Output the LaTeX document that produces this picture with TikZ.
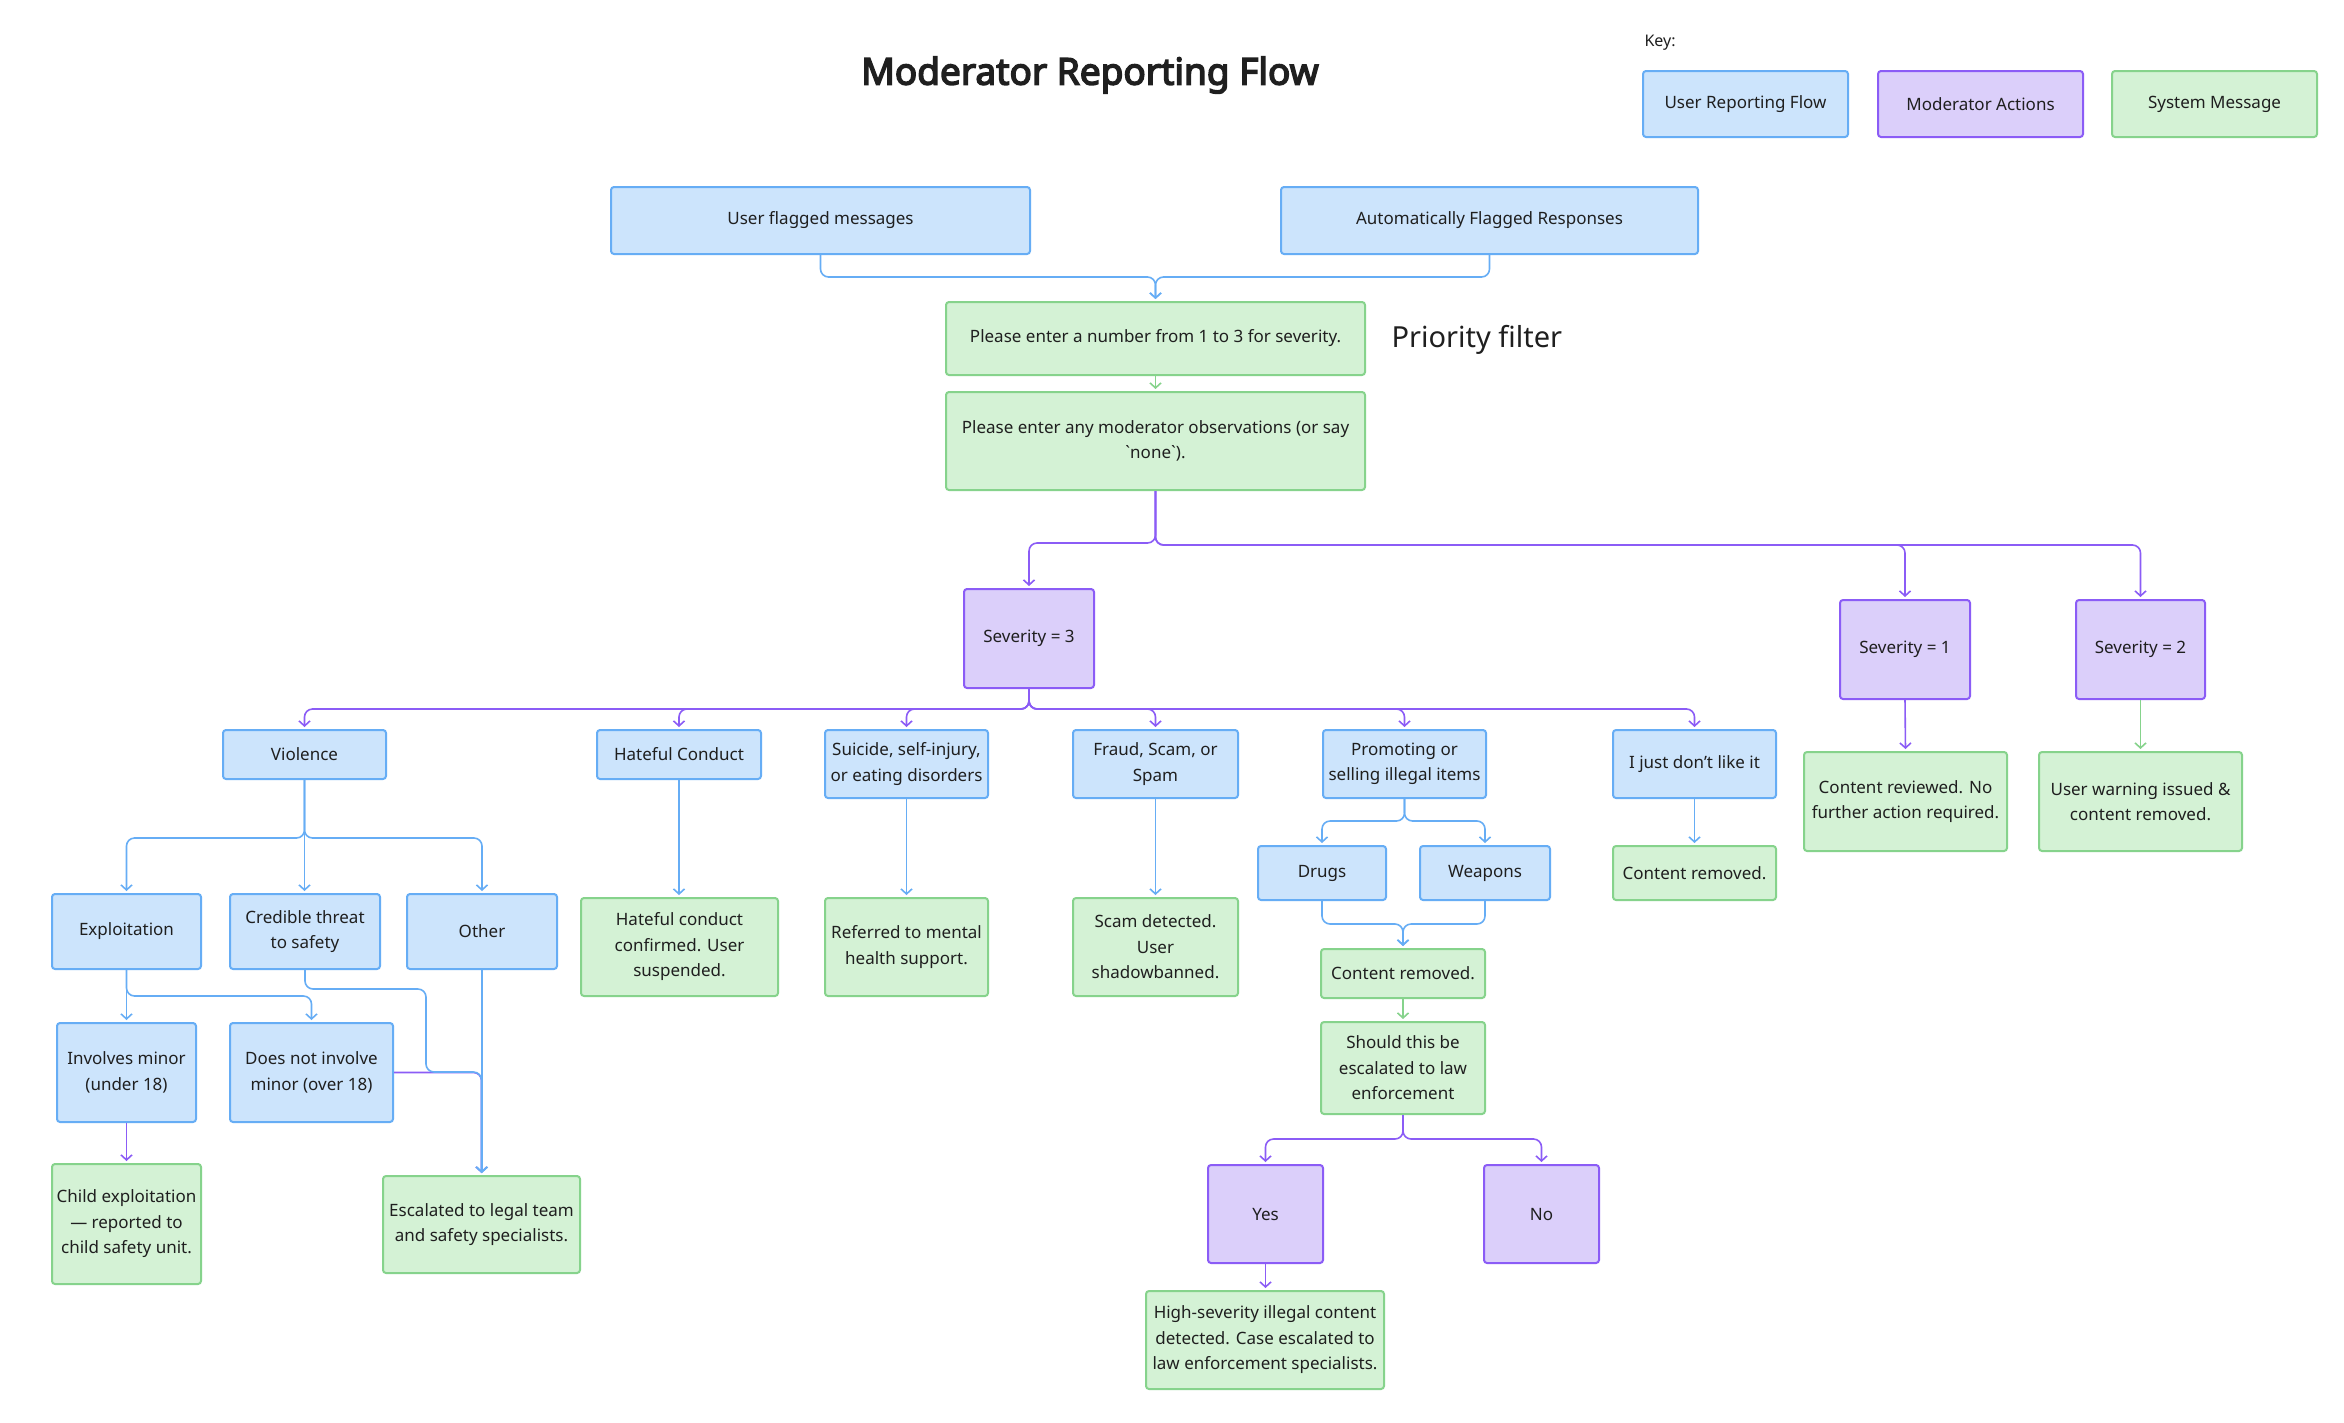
\documentclass[tikz,border=0pt]{standalone}
\usepackage{fontspec}
\setmainfont{Noto Sans}
\newfontfamily\titlefont[FakeBold=4]{Noto Sans}
\usetikzlibrary{arrows.meta,calc}
\definecolor{bfill}{HTML}{CCE4FC}
\definecolor{bline}{HTML}{66ADF5}
\definecolor{pfill}{HTML}{DBCFFA}
\definecolor{pline}{HTML}{8B5CF6}
\definecolor{gfill}{HTML}{D4F2D5}
\definecolor{gline}{HTML}{86D38C}
\definecolor{txt}{HTML}{1F1F1F}
\begin{document}
\begin{tikzpicture}[x=1pt,y=-1pt,
 box/.style={draw, line width=2pt, rounded corners=3pt, align=center, inner sep=0pt, text=txt, font=\fontsize{17}{25.5}\selectfont},
 ub/.style={box, fill=bfill, draw=bline},
 mb/.style={box, fill=pfill, draw=pline},
 sb/.style={box, fill=gfill, draw=gline},
 wh/.style 2 args={minimum width=#1pt, minimum height=#2pt},
 con/.style={line width=1.6pt, rounded corners=8pt, -{Straight Barb[length=5pt,width=11pt]}, shorten >=2pt},
 bc/.style={con, draw=bline},
 pc/.style={con, draw=pline},
 gc/.style={con, draw=gline},
]
\fill[white] (0,0) rectangle (2344,1422);
\useasboundingbox (0,0) rectangle (2344,1422);

% title, key, labels
\node[font=\titlefont\fontsize{37}{42}\selectfont, text=txt] (title) at (1090,75) {Moderator Reporting Flow};
\node[anchor=west, font=\fontsize{16}{19}\selectfont, text=txt] (key) at (1641,43) {Key:};
\node[ub, wh={205}{66}] (ku) at (1745.5,104) {User Reporting Flow};
\node[mb, wh={205}{66}] (km) at (1980.5,104) {Moderator Actions};
\node[sb, wh={205}{66}] (ks) at (2214.5,104) {System Message};
\node[anchor=west, font=\fontsize{29}{34}\selectfont, text=txt] (pf) at (1388,340) {Priority filter};

% top
\node[ub, wh={419}{67}] (ufm) at (820.5,220.5) {User flagged messages};
\node[ub, wh={417}{67}] (afr) at (1489.5,220.5) {Automatically Flagged Responses};
\node[sb, wh={419}{73}] (pri) at (1155.5,338.5) {Please enter a number from 1 to 3 for severity.};
\node[sb, wh={419}{98}] (obs) at (1155.5,441) {Please enter any moderator observations (or say\\ \textasciigrave none\textasciigrave).};

% severity
\node[mb, wh={130}{99}] (sev3) at (1029,638.5) {Severity = 3};
\node[mb, wh={130}{99}] (sev1) at (1905,649.5) {Severity = 1};
\node[mb, wh={129}{99}] (sev2) at (2140.5,649.5) {Severity = 2};
\node[sb, wh={203}{99}] (crev) at (1905.5,801.5) {Content reviewed. No\\further action required.};
\node[sb, wh={203}{99}] (uwarn) at (2140.5,801.5) {User warning issued \&\\content removed.};

% categories
\node[ub, wh={163}{49}] (viol) at (304.5,754.5) {Violence};
\node[ub, wh={164}{49}] (hate) at (679,754.5) {Hateful Conduct};
\node[ub, wh={163}{68}] (sui) at (906.5,764) {Suicide, self-injury,\\or eating disorders};
\node[ub, wh={165}{68}] (fraud) at (1155.5,764) {Fraud, Scam, or\\Spam};
\node[ub, wh={163}{68}] (promo) at (1404.5,764) {Promoting or\\selling illegal items};
\node[ub, wh={163}{68}] (ijust) at (1694.5,764) {I just don’t like it};

% second row
\node[ub, wh={149}{75}] (expl) at (126.5,931.5) {Exploitation};
\node[ub, wh={150}{75}] (cred) at (305,931.5) {Credible threat\\to safety};
\node[ub, wh={150}{75}] (other) at (482,931.5) {Other};
\node[sb, wh={197}{98}] (hcc) at (679.5,947) {Hateful conduct\\confirmed. User\\suspended.};
\node[sb, wh={163}{98}] (ref) at (906.5,947) {Referred to mental\\health support.};
\node[sb, wh={165}{98}] (scam) at (1155.5,947) {Scam detected.\\User\\shadowbanned.};
\node[ub, wh={128}{54}] (drugs) at (1322,873) {Drugs};
\node[ub, wh={130}{54}] (weap) at (1485,873) {Weapons};
\node[sb, wh={163}{54}] (cremr) at (1694.5,873) {Content removed.};
\node[sb, wh={164}{49}] (cremm) at (1403,973.5) {Content removed.};
\node[sb, wh={164}{92}] (should) at (1403,1068) {Should this be\\escalated to law\\enforcement};
\node[mb, wh={115}{98}] (yes) at (1265.5,1214) {Yes};
\node[mb, wh={115}{98}] (no) at (1541.5,1214) {No};
\node[sb, wh={238}{98}] (high) at (1265,1340) {High-severity illegal content\\detected. Case escalated to\\law enforcement specialists.};

% third row left
\node[ub, wh={139}{99}] (inv) at (126.5,1072.5) {Involves minor\\(under 18)};
\node[ub, wh={163}{99}] (dni) at (311.5,1072.5) {Does not involve\\minor (over 18)};
\node[sb, wh={149}{120}] (child) at (126.5,1224) {Child exploitation\\— reported to\\child safety unit.};
\node[sb, wh={197}{97}] (esc) at (481.5,1224.5) {Escalated to legal team\\and safety specialists.};

% connectors
\draw[bc] (ufm.south) |- (pri.north |- 0,277) -- (pri.north);
\draw[bc] (afr.south) |- (pri.north |- 0,277) -- (pri.north);
\draw[gc] (pri.south) -- (obs.north);
\draw[pc] (obs.south) |- (sev3.north |- 0,543) -- (sev3.north);
\draw[pc] (obs.south) |- (sev1.north |- 0,545) -- (sev1.north);
\draw[pc] (obs.south) |- (sev2.north |- 0,545) -- (sev2.north);
\draw[pc] (sev1.south) -- (crev.north);
\draw[gc] (sev2.south) -- (uwarn.north);

\foreach \n in {viol,hate,sui,fraud,promo,ijust}{
  \draw[pc] (sev3.south) |- (\n.north |- 0,709) -- (\n.north);
}

\draw[bc] (viol.south) |- (expl.north |- 0,838) -- (expl.north);
\draw[bc] (viol.south) -- (viol.south |- cred.north);
\draw[bc] (viol.south) |- (other.north |- 0,838) -- (other.north);

\draw[bc] (expl.south) -- (inv.north);
\draw[bc] (expl.south) |- (dni.north |- 0,996) -- (dni.north);
\draw[pc] (inv.south) -- (child.north);

\draw[pc] (dni.east) -| (esc.north);
\draw[bc] (cred.south) |- (426,989) |- (esc.north |- 0,1072) -- (esc.north);
\draw[bc] (other.south) -- (other.south |- esc.north);

\draw[bc] (hate.south) -- (hate.south |- hcc.north);
\draw[bc] (sui.south) -- (ref.north);
\draw[bc] (fraud.south) -- (scam.north);
\draw[bc] (ijust.south) -- (cremr.north);

\draw[bc] (promo.south) |- (drugs.north |- 0,821) -- (drugs.north);
\draw[bc] (promo.south) |- (weap.north |- 0,821) -- (weap.north);
\draw[bc] (drugs.south) |- (cremm.north |- 0,924) -- (cremm.north);
\draw[bc] (weap.south) |- (cremm.north |- 0,924) -- (cremm.north);
\draw[gc] (cremm.south) -- (should.north);
\draw[pc] (should.south) |- (yes.north |- 0,1139) -- (yes.north);
\draw[pc] (should.south) |- (no.north |- 0,1139) -- (no.north);
\draw[pc] (yes.south) -- (yes.south |- high.north);
\end{tikzpicture}
\end{document}
